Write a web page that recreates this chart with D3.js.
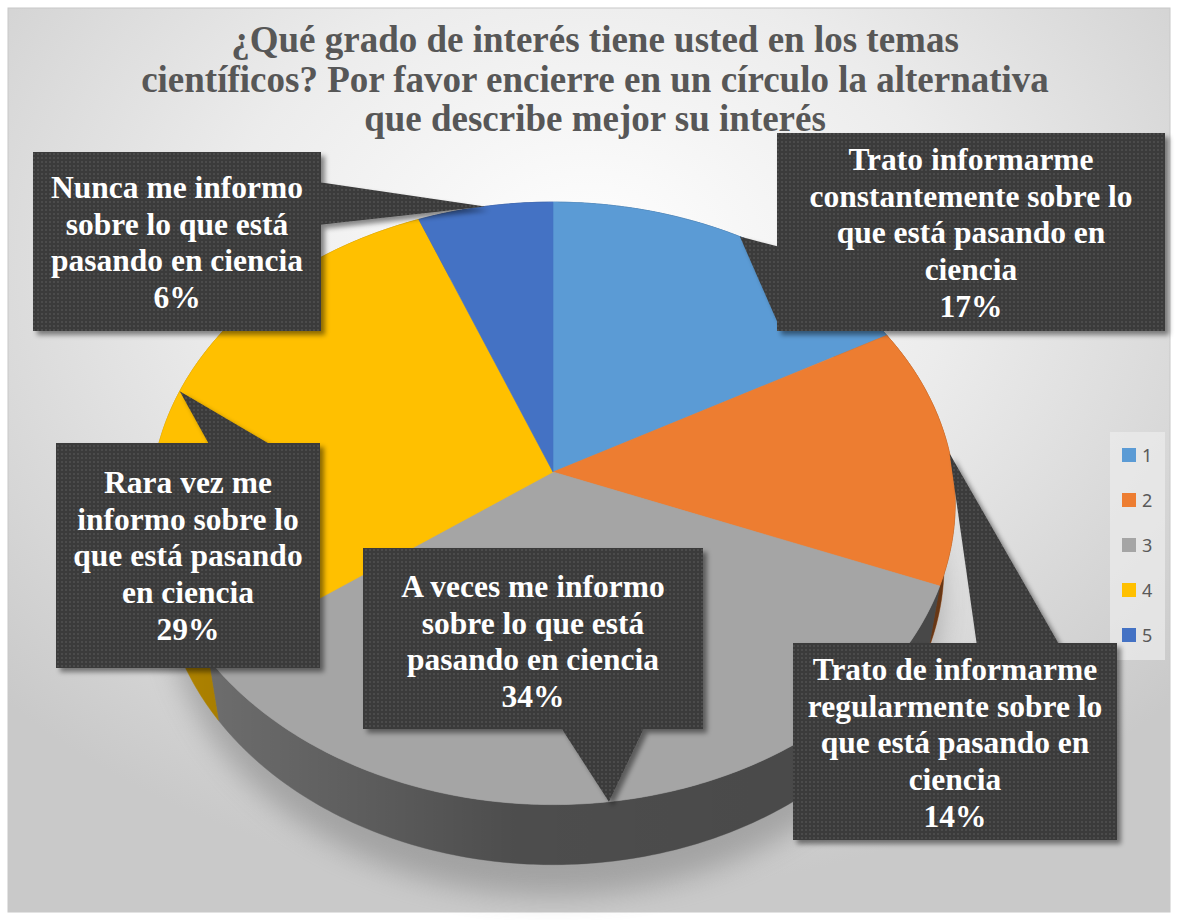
<!DOCTYPE html>
<html><head><meta charset="utf-8">
<script src="https://cdn.jsdelivr.net/npm/d3@7"></script>
<style>html,body{margin:0;padding:0;background:#fff;} svg{display:block}</style>
</head><body>
<svg id="chart" width="1177" height="920"></svg>
<script>
// ---------- data ----------
const categories = ["1", "2", "3", "4", "5"];
const values = [17, 14, 34, 29, 6];
const sliceLabels = [
  ["Trato informarme", "constantemente sobre lo", "que está pasando en", "ciencia"],
  ["Trato de informarme", "regularmente sobre lo", "que está pasando en", "ciencia"],
  ["A veces me informo", "sobre lo que está", "pasando en ciencia"],
  ["Rara vez me", "informo sobre lo", "que está pasando", "en ciencia"],
  ["Nunca me informo", "sobre lo que está", "pasando en ciencia"]
];
const titleLines = [
  "¿Qué grado de interés tiene usted en los temas",
  "científicos? Por favor encierre en un círculo la alternativa",
  "que describe mejor su interés"
];

// ---------- styles / layout ----------
const colors = ["#5B9BD5", "#ED7D31", "#A5A5A5", "#FFC000", "#4472C4"];
// callout boxes: [x0, y0, x1, y1, firstBaseline, textCenterX], pointer base points
const boxes = [
  {b: [777, 133, 1165, 331], base: [[780, 247], [780, 328]], fy: 170, tx: 971},
  {b: [793, 643, 1117, 840], base: [[977, 646], [1060, 646]], fy: 680, tx: 955},
  {b: [363, 548, 703, 729], base: [[560, 726], [645, 726]], fy: 597, tx: 533},
  {b: [56, 443, 320, 668], base: [[210, 446], [273, 446]], fy: 493, tx: 188},
  {b: [33, 152, 321, 331], base: [[318, 182], [318, 225]], fy: 198, tx: 177}
];

const svg = d3.select("#chart");
const defs = svg.append("defs");

// background gradient
const bg = defs.append("radialGradient").attr("id", "bg")
  .attr("cx", "50%").attr("cy", "28%").attr("r", "70%");
bg.append("stop").attr("offset", "0").attr("stop-color", "#ffffff");
bg.append("stop").attr("offset", "0.45").attr("stop-color", "#ececec");
bg.append("stop").attr("offset", "1").attr("stop-color", "#c9c9c9");

// dot pattern
const pat = defs.append("pattern").attr("id", "dots")
  .attr("width", 4).attr("height", 4).attr("patternUnits", "userSpaceOnUse");
pat.append("rect").attr("width", 4).attr("height", 4).attr("fill", "#3a3a3a");
pat.append("rect").attr("x", 1).attr("y", 1).attr("width", 2).attr("height", 2).attr("fill", "#4b4b4b");

// shadows
const ds = defs.append("filter").attr("id", "ds").attr("x", "-10%").attr("y", "-10%").attr("width", "130%").attr("height", "130%");
ds.append("feDropShadow").attr("dx", 4).attr("dy", 4).attr("stdDeviation", 2.5)
  .attr("flood-color", "#000").attr("flood-opacity", 0.45);
const blur = defs.append("filter").attr("id", "blur").attr("x", "-20%").attr("y", "-20%").attr("width", "140%").attr("height", "140%");
blur.append("feGaussianBlur").attr("stdDeviation", 14);

// side shading overlay
const sg = defs.append("linearGradient").attr("id", "sideShade")
  .attr("gradientUnits", "userSpaceOnUse").attr("x1", 150).attr("x2", 960).attr("y1", 0).attr("y2", 0);
sg.append("stop").attr("offset", "0").attr("stop-color", "#000").attr("stop-opacity", 0);
sg.append("stop").attr("offset", "0.45").attr("stop-color", "#000").attr("stop-opacity", 0.33);
sg.append("stop").attr("offset", "1").attr("stop-color", "#000").attr("stop-opacity", 0.38);

svg.append("rect").attr("x", 8).attr("y", 8).attr("width", 1162).attr("height", 904)
  .attr("fill", "url(#bg)").attr("stroke", "#c8c8c8").attr("stroke-width", 1);

// ---------- 3D pie projection ----------
const cx = 553, cy = 472, F = 2564, rr = 0.156, sinA = 0.745, cosA = Math.sqrt(1 - sinA * sinA), eta = 0.038;
function proj(theta, rad, depth) {
  const u = rad * Math.sin(theta), w = rad * Math.cos(theta);
  const y = -depth * eta;
  const xc = rr * u;
  const yc = y * cosA + rr * w * sinA;
  const zc = 1 - y * sinA + rr * w * cosA;
  return [cx + F * xc / zc, cy - F * yc / zc];
}
function arcPts(a0, a1, depth) {
  const n = Math.max(4, Math.ceil((a1 - a0) * 90));
  return d3.range(n + 1).map(i => proj(a0 + (a1 - a0) * i / n, 1, depth));
}
const pie = d3.pie().sort(null).value(d => d);
const arcs = pie(values);
const total = d3.sum(values);
const line = d3.line();

const g = svg.append("g");
// shadow under pie
g.append("path")
  .attr("d", line(arcPts(0, 2 * Math.PI, 1.35)) + "Z")
  .attr("fill", "#6f6f6f").attr("opacity", 0.45).attr("filter", "url(#blur)")
  .attr("transform", "translate(0,10)");

// sides
g.selectAll("path.side").data(arcs).join("path").attr("class", "side")
  .attr("d", d => line(arcPts(d.startAngle, d.endAngle, 0).concat(arcPts(d.startAngle, d.endAngle, 1).reverse())) + "Z")
  .attr("fill", (d, i) => d3.color(colors[i]).darker(1.0))
  .attr("stroke", (d, i) => d3.color(colors[i]).darker(1.0)).attr("stroke-width", 0.6);
g.append("path")
  .attr("d", line(arcPts(0, 2 * Math.PI, 0).concat(arcPts(0, 2 * Math.PI, 1).reverse())) + "Z")
  .attr("fill", "url(#sideShade)").attr("fill-rule", "nonzero");

// tops
g.selectAll("path.top").data(arcs).join("path").attr("class", "top")
  .attr("d", d => line([[cx, cy]].concat(arcPts(d.startAngle, d.endAngle, 0))) + "Z")
  .attr("fill", (d, i) => colors[i])
  .attr("stroke", (d, i) => colors[i]).attr("stroke-width", 0.6);

// ---------- title ----------
svg.append("g").selectAll("text").data(titleLines).join("text")
  .attr("x", 595).attr("y", (d, i) => 52 + i * 39.5)
  .attr("text-anchor", "middle")
  .attr("font-family", "'Liberation Serif','Times New Roman',serif")
  .attr("font-weight", "bold").attr("font-size", 37)
  .attr("fill", "#575757")
  .text(d => d);

// ---------- legend ----------
const lg = svg.append("g");
lg.append("rect").attr("x", 1110).attr("y", 432).attr("width", 55).attr("height", 228).attr("fill", "#ececec").attr("opacity", 0.7);
const li = lg.selectAll("g").data(categories).join("g")
  .attr("transform", (d, i) => `translate(1122,${455 + i * 45})`);
li.append("rect").attr("x", 0).attr("y", -7).attr("width", 14).attr("height", 14).attr("fill", (d, i) => colors[i]);
li.append("text").attr("x", 20).attr("y", 6.5)
  .attr("font-family", "'Noto Sans','Open Sans',sans-serif").attr("font-size", 18)
  .attr("fill", "#595959").text(d => d);

// ---------- callouts ----------
const fmt = d3.format(".0%");
const cg = svg.append("g");
arcs.forEach((d, i) => {
  const bx = boxes[i];
  const mid = (d.startAngle + d.endAngle) / 2;
  const tip = proj(mid, 1, 0);
  const grp = cg.append("g").attr("filter", "url(#ds)");
  grp.append("path")
    .attr("d", line([tip, bx.base[0], bx.base[1]]) + "Z")
    .attr("fill", "url(#dots)");
  grp.append("rect").attr("x", bx.b[0]).attr("y", bx.b[1])
    .attr("width", bx.b[2] - bx.b[0]).attr("height", bx.b[3] - bx.b[1])
    .attr("fill", "url(#dots)");
  const lines = sliceLabels[i].concat([fmt(d.data / total)]);
  cg.append("g").selectAll("text").data(lines).join("text")
    .attr("x", bx.tx).attr("y", (t, j) => bx.fy + j * 36.7)
    .attr("text-anchor", "middle")
    .attr("font-family", "'Liberation Serif','Times New Roman',serif")
    .attr("font-weight", "bold").attr("font-size", 31.5)
    .attr("fill", "#ffffff")
    .text(t => t);
});
</script>
</body></html>
